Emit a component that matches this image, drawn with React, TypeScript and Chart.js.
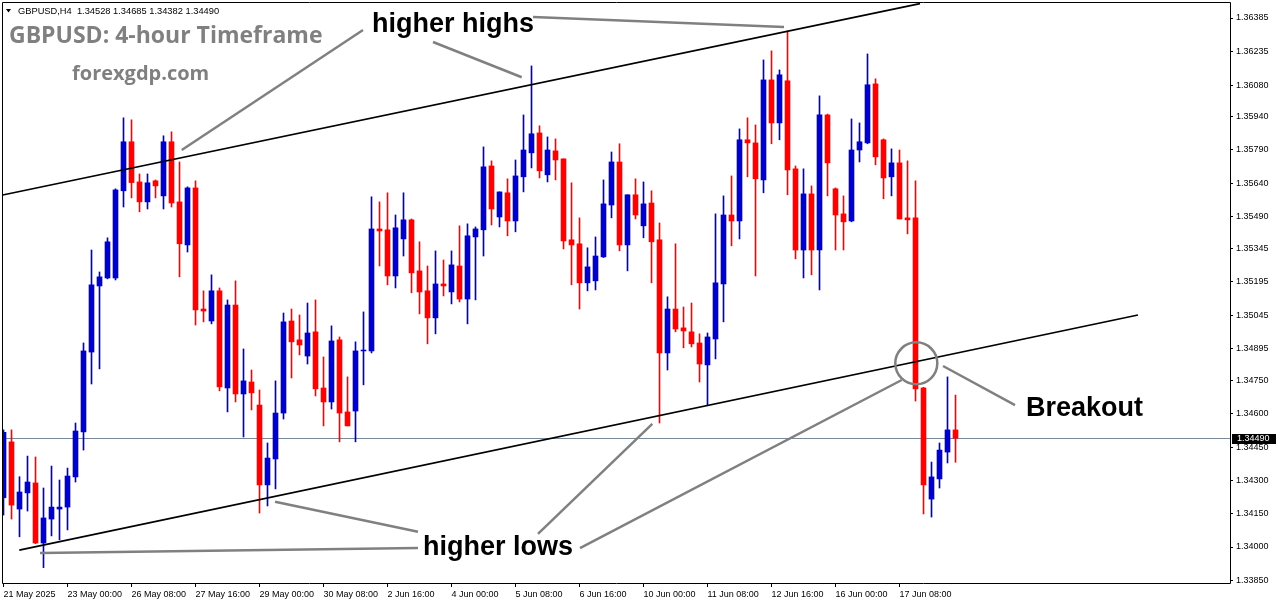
import React, { useEffect, useRef } from "react";
import { Chart, registerables } from "chart.js";

Chart.register(...registerables);

// ---------- data ----------
const symbolName = "GBPUSD,H4";
const chartTitle = "GBPUSD: 4-hour Timeframe";
const siteName = "forexgdp.com";

const opens = [
  1.34222, 1.34474, 1.34171, 1.34244, 1.34289, 1.34018, 1.34126, 1.34171, 1.3418, 1.34316,
  1.34519, 1.34879, 1.35177, 1.35213, 1.35213, 1.35606, 1.35827, 1.35646, 1.35556, 1.35651,
  1.35583, 1.35827, 1.35556, 1.35362, 1.35619, 1.35073, 1.35019, 1.35155, 1.34717, 1.35091,
  1.3469, 1.34744, 1.3464, 1.3428, 1.34397, 1.34604, 1.35019, 1.34934, 1.34861, 1.3497,
  1.34717, 1.34654, 1.34934, 1.34609, 1.34613, 1.34884, 1.34884, 1.35434, 1.3543, 1.35222,
  1.35389, 1.35475, 1.35245, 1.35155, 1.35033, 1.35186, 1.3515, 1.35267, 1.35118, 1.35398,
  1.3543, 1.35718, 1.35488, 1.35597, 1.3547, 1.35669, 1.35777, 1.35867, 1.35678, 1.35786,
  1.3575, 1.35385, 1.35367, 1.35191, 1.352, 1.35308, 1.35542, 1.35736, 1.35362, 1.35588,
  1.35448, 1.35551, 1.35385, 1.34875, 1.35073, 1.34988, 1.3497, 1.3492, 1.34821, 1.34938,
  1.35186, 1.35497, 1.3547, 1.35836, 1.35822, 1.35655, 1.36106, 1.35912, 1.36102, 1.35705,
  1.35339, 1.35592, 1.35339, 1.35948, 1.35615, 1.35502, 1.3547, 1.3579, 1.35822, 1.36088,
  1.35836, 1.35669, 1.35732, 1.35484, 1.35484, 1.34717, 1.34216, 1.34307, 1.34428, 1.34528,
];
const highs = [
  1.34528, 1.34528, 1.34317, 1.3441, 1.34406, 1.34266, 1.34365, 1.34302, 1.34356, 1.34559,
  1.3492, 1.35339, 1.3524, 1.35394, 1.35615, 1.35935, 1.35926, 1.35682, 1.35682, 1.35655,
  1.35854, 1.35872, 1.35736, 1.35624, 1.35651, 1.35155, 1.35227, 1.35168, 1.35114, 1.352,
  1.34893, 1.34798, 1.34708, 1.34469, 1.34749, 1.35055, 1.35073, 1.35046, 1.351, 1.35114,
  1.34857, 1.34997, 1.34947, 1.34767, 1.34925, 1.3506, 1.35579, 1.35556, 1.35597, 1.35497,
  1.35597, 1.35479, 1.35376, 1.35267, 1.35335, 1.35294, 1.35335, 1.35448, 1.35457, 1.35443,
  1.35804, 1.35741, 1.35601, 1.3566, 1.35745, 1.35948, 1.36169, 1.35899, 1.35849, 1.3584,
  1.3575, 1.35642, 1.35484, 1.35349, 1.35398, 1.35655, 1.35781, 1.35818, 1.35588, 1.3566,
  1.35646, 1.35606, 1.35461, 1.35128, 1.35367, 1.35082, 1.351, 1.34961, 1.34965, 1.35502,
  1.35583, 1.35673, 1.35885, 1.35935, 1.35903, 1.36196, 1.36237, 1.36151, 1.36327, 1.35718,
  1.35705, 1.35628, 1.36034, 1.35952, 1.35619, 1.35583, 1.3593, 1.35912, 1.36223, 1.36111,
  1.3584, 1.35795, 1.3579, 1.35741, 1.35651, 1.3472, 1.34383, 1.34469, 1.34767, 1.34685,
];
const lows = [
  1.34144, 1.34126, 1.34046, 1.34162, 1.34015, 1.33907, 1.3405, 1.34032, 1.34077, 1.34293,
  1.34437, 1.34735, 1.34803, 1.35209, 1.35204, 1.35533, 1.35574, 1.35511, 1.35524, 1.35574,
  1.35524, 1.35533, 1.35218, 1.3533, 1.35001, 1.35015, 1.35006, 1.34704, 1.34609, 1.34654,
  1.34496, 1.34618, 1.34153, 1.34185, 1.34262, 1.34577, 1.34762, 1.34866, 1.34825, 1.34681,
  1.34546, 1.34622, 1.34474, 1.34546, 1.34474, 1.34731, 1.34875, 1.35267, 1.35182, 1.35168,
  1.35312, 1.35146, 1.35051, 1.34916, 1.34961, 1.35132, 1.35096, 1.35105, 1.35006, 1.35114,
  1.35312, 1.35452, 1.35443, 1.35403, 1.35421, 1.35601, 1.35709, 1.35664, 1.35646, 1.35655,
  1.35344, 1.35182, 1.35073, 1.35155, 1.35159, 1.35305, 1.35484, 1.35335, 1.35245, 1.35479,
  1.35394, 1.35191, 1.34559, 1.34798, 1.3497, 1.34898, 1.34902, 1.34744, 1.3464, 1.34848,
  1.35015, 1.35358, 1.35389, 1.35669, 1.35222, 1.35597, 1.35818, 1.35836, 1.35588, 1.35299,
  1.35213, 1.35227, 1.35159, 1.35583, 1.35339, 1.35339, 1.35466, 1.35736, 1.35818, 1.35723,
  1.3557, 1.35583, 1.35479, 1.35412, 1.34658, 1.34149, 1.34135, 1.34266, 1.34379, 1.34382,
];
const closes = [
  1.34517, 1.34189, 1.34248, 1.34293, 1.34018, 1.34131, 1.3418, 1.3418, 1.3432, 1.34523,
  1.34884, 1.35182, 1.35218, 1.35376, 1.3561, 1.35827, 1.35643, 1.35556, 1.35642, 1.35628,
  1.35827, 1.35551, 1.35367, 1.35619, 1.35069, 1.35064, 1.35155, 1.34722, 1.35091, 1.3469,
  1.34749, 1.34695, 1.3428, 1.34401, 1.34604, 1.35015, 1.34925, 1.34911, 1.34965, 1.34713,
  1.34654, 1.34929, 1.34604, 1.34546, 1.34884, 1.34888, 1.35434, 1.35425, 1.35222, 1.35439,
  1.35475, 1.35236, 1.3515, 1.35033, 1.35186, 1.35177, 1.35272, 1.35118, 1.35403, 1.35434,
  1.35714, 1.35524, 1.35601, 1.3547, 1.35673, 1.3579, 1.35863, 1.35696, 1.3579, 1.35745,
  1.3538, 1.35362, 1.35191, 1.35263, 1.35312, 1.35547, 1.35736, 1.35362, 1.35588, 1.35497,
  1.35547, 1.35376, 1.34875, 1.35073, 1.34983, 1.34974, 1.34916, 1.34825, 1.34947, 1.35191,
  1.35497, 1.3547, 1.35836, 1.35822, 1.3566, 1.36106, 1.35912, 1.36129, 1.357, 1.35339,
  1.35592, 1.35339, 1.35948, 1.35732, 1.35497, 1.35466, 1.3579, 1.35827, 1.36084, 1.35759,
  1.35664, 1.35732, 1.35479, 1.35475, 1.34713, 1.3428, 1.34316, 1.34437, 1.34528, 1.3449,
];

const dateLabels = [
  "21 May 2025", "23 May 00:00", "26 May 08:00", "27 May 16:00", "29 May 00:00",
  "30 May 08:00", "2 Jun 16:00", "4 Jun 00:00", "5 Jun 08:00", "6 Jun 16:00",
  "10 Jun 00:00", "11 Jun 08:00", "12 Jun 16:00", "16 Jun 00:00", "17 Jun 08:00",
];
const dateLabelBars = [0, 8, 16, 24, 32, 40, 48, 56, 64, 72, 80, 88, 96, 104, 112];

const priceTicks = [
  1.36385, 1.36235, 1.3608, 1.3594, 1.3579, 1.3564, 1.3549, 1.35345, 1.35195,
  1.35045, 1.34895, 1.3475, 1.346, 1.3445, 1.343, 1.3415, 1.34, 1.3385,
];

// trend lines, in (bar index, price)
const upperTrendX = [-0.1, 114.56];
const upperTrendY = [1.35587, 1.3645];
const lowerTrendX = [1.975, 141.81];
const lowerTrendY = [1.33986, 1.35046];

// callout segments: [barFrom, priceFrom, barTo, priceTo]
const calloutSegments = [
  [44.94, 1.36331, 22.28, 1.3579],
  [53.69, 1.36277, 64.78, 1.36118],
  [66.19, 1.3639, 97.56, 1.36344],
  [4.56, 1.33973, 51.81, 1.33995],
  [33.94, 1.34204, 51.81, 1.34069],
  [66.81, 1.34059, 81.1, 1.34555],
  [72.06, 1.33995, 112.28, 1.34753],
  [117.44, 1.34816, 126.44, 1.3464],
];
const breakoutCircle = [114.1, 1.34828];
const calloutTexts = ["higher highs", "higher lows", "Breakout"];
const calloutTextBar = [46.06, 52.44, 127.81];
const calloutTextPrice = [1.36322, 1.33964, 1.34591];

// ---------- helpers ----------
const BULL = "#0000cc";
const BEAR = "#ff0000";
const X_MIN = -0.1875;
const X_MAX = 153.3125;
const Y_MIN = 1.338377;
const Y_MAX = 1.364572;

const overlayPlugin = {
  id: "overlay",
  beforeDatasetsDraw(chart: any) {
    const { ctx, chartArea, scales } = chart;
    const py = Math.round(scales.y.getPixelForValue(closes[closes.length - 1])) + 0.5;
    ctx.save();
    ctx.strokeStyle = "#778899";
    ctx.lineWidth = 1;
    ctx.beginPath();
    ctx.moveTo(chartArea.left, py);
    ctx.lineTo(chartArea.right, py);
    ctx.stroke();
    ctx.restore();
  },
  afterDatasetsDraw(chart: any) {
    const { ctx, scales } = chart;
    const xs = scales.x;
    const ys = scales.y;
    ctx.save();
    ctx.strokeStyle = "#808080";
    ctx.lineWidth = 2.5;
    calloutSegments.forEach((s) => {
      ctx.beginPath();
      ctx.moveTo(xs.getPixelForValue(s[0]), ys.getPixelForValue(s[1]));
      ctx.lineTo(xs.getPixelForValue(s[2]), ys.getPixelForValue(s[3]));
      ctx.stroke();
    });
    ctx.beginPath();
    ctx.arc(
      xs.getPixelForValue(breakoutCircle[0]),
      ys.getPixelForValue(breakoutCircle[1]),
      21,
      0,
      Math.PI * 2
    );
    ctx.stroke();

    ctx.fillStyle = "#000";
    ctx.font = 'bold 27px "Liberation Sans", Arial, sans-serif';
    ctx.textBaseline = "alphabetic";
    ctx.textAlign = "left";
    calloutTexts.forEach((t, i) => {
      ctx.fillText(t, xs.getPixelForValue(calloutTextBar[i]), ys.getPixelForValue(calloutTextPrice[i]));
    });
    ctx.restore();
  },
  afterDraw(chart: any) {
    const { ctx, chartArea, scales } = chart;
    const ys = scales.y;
    ctx.save();
    // frame
    const l = Math.round(chartArea.left) + 0.5;
    const t = Math.round(chartArea.top) + 0.5;
    const r = Math.round(chartArea.right) + 0.5;
    const b = Math.round(chartArea.bottom) + 0.5;
    ctx.strokeStyle = "#000";
    ctx.lineWidth = 1;
    ctx.beginPath();
    ctx.moveTo(l, t);
    ctx.lineTo(r, t);
    ctx.lineTo(r, b);
    ctx.lineTo(l, b);
    ctx.closePath();
    ctx.stroke();

    // header
    ctx.fillStyle = "#000";
    ctx.beginPath();
    ctx.moveTo(6, 9);
    ctx.lineTo(11, 9);
    ctx.lineTo(8.5, 12.5);
    ctx.closePath();
    ctx.fill();
    const n = closes.length - 1;
    const header = `${symbolName}  ${opens[n].toFixed(5)} ${highs[n].toFixed(5)} ${lows[n].toFixed(5)} ${closes[n].toFixed(5)}`;
    ctx.font = '9.3px "Liberation Sans", Arial, sans-serif';
    ctx.textBaseline = "alphabetic";
    ctx.textAlign = "left";
    ctx.fillText(header, 18, 14);

    // titles
    ctx.fillStyle = "#808080";
    ctx.font = 'bold 23px "Open Sans", sans-serif';
    ctx.fillText(chartTitle, 9, 43);
    ctx.font = 'bold 20px "Open Sans", sans-serif';
    ctx.fillText(siteName, 72, 80);

    // bid label box
    const last = closes[n];
    const py = Math.round(ys.getPixelForValue(last));
    ctx.fillStyle = "#000";
    ctx.fillRect(Math.round(chartArea.right) + 2, py - 4, 46, 10);
    ctx.fillStyle = "#fff";
    ctx.font = '9px "Liberation Sans", Arial, sans-serif';
    ctx.textBaseline = "middle";
    ctx.fillText(last.toFixed(5), 1237, py + 1);
    ctx.restore();
  },
};

export default function App() {
  const ref = useRef<HTMLCanvasElement | null>(null);

  useEffect(() => {
    document.body.style.margin = "0";
    const canvas = ref.current;
    if (!canvas) return;

    const bodies = opens.map((o, i) => ({ x: i, y: [o, closes[i]] }));
    const wicks = lows.map((lo, i) => ({ x: i, y: [lo, highs[i]] }));
    const colors = opens.map((o, i) => (closes[i] >= o ? BULL : BEAR));

    const chart = new Chart(canvas, {
      type: "bar",
      data: {
        datasets: [
          {
            type: "line",
            data: [
              { x: upperTrendX[0], y: upperTrendY[0] },
              { x: upperTrendX[1], y: upperTrendY[1] },
            ],
            borderColor: "#000",
            borderWidth: 1.6,
            pointRadius: 0,
            order: 0,
          } as any,
          {
            type: "line",
            data: [
              { x: lowerTrendX[0], y: lowerTrendY[0] },
              { x: lowerTrendX[1], y: lowerTrendY[1] },
            ],
            borderColor: "#000",
            borderWidth: 1.6,
            pointRadius: 0,
            order: 0,
          } as any,
          {
            type: "bar",
            data: bodies as any,
            backgroundColor: colors,
            borderWidth: 0,
            barThickness: 5,
            grouped: false,
            order: 1,
          } as any,
          {
            type: "bar",
            data: wicks as any,
            backgroundColor: colors,
            borderWidth: 0,
            barThickness: 1,
            grouped: false,
            order: 2,
          } as any,
        ],
      },
      options: {
        responsive: false,
        animation: false,
        layout: { padding: { left: 2, top: 2, right: 0, bottom: 0 } },
        plugins: {
          legend: { display: false },
          tooltip: { enabled: false },
        },
        scales: {
          x: {
            type: "linear",
            min: X_MIN,
            max: X_MAX,
            offset: false,
            grid: {
              display: true,
              drawOnChartArea: false,
              drawTicks: true,
              tickLength: 4,
              color: "#000",
              offset: false,
            },
            border: { display: false },
            ticks: {
              autoSkip: false,
              maxRotation: 0,
              align: "start",
              padding: 2,
              color: "#000",
              font: { family: '"Liberation Sans", Arial, sans-serif', size: 9 },
              callback: (_v: any, idx: number) => dateLabels[idx],
            },
            afterBuildTicks: (s: any) => {
              s.ticks = dateLabelBars.map((v) => ({ value: v }));
            },
            afterFit: (s: any) => {
              s.height = 21;
              s.paddingLeft = 0;
              s.paddingRight = 0;
            },
          },
          y: {
            type: "linear",
            position: "right",
            min: Y_MIN,
            max: Y_MAX,
            grid: {
              display: true,
              drawOnChartArea: false,
              drawTicks: true,
              tickLength: 3,
              color: "#000",
            },
            border: { display: false },
            ticks: {
              padding: 3,
              color: "#000",
              font: { family: '"Liberation Sans", Arial, sans-serif', size: 9 },
              callback: (v: any) => Number(v).toFixed(5),
            },
            afterBuildTicks: (s: any) => {
              s.ticks = priceTicks.map((v) => ({ value: v }));
            },
            afterFit: (s: any) => {
              s.width = 46;
              s.paddingTop = 0;
              s.paddingBottom = 0;
            },
          },
        },
      } as any,
      plugins: [overlayPlugin],
    });

    return () => chart.destroy();
  }, []);

  return (
    <div style={{ position: "absolute", left: 0, top: 0, width: 1276, height: 604, background: "#fff" }}>
      <canvas ref={ref} width={1276} height={604} style={{ display: "block" }} />
    </div>
  );
}
